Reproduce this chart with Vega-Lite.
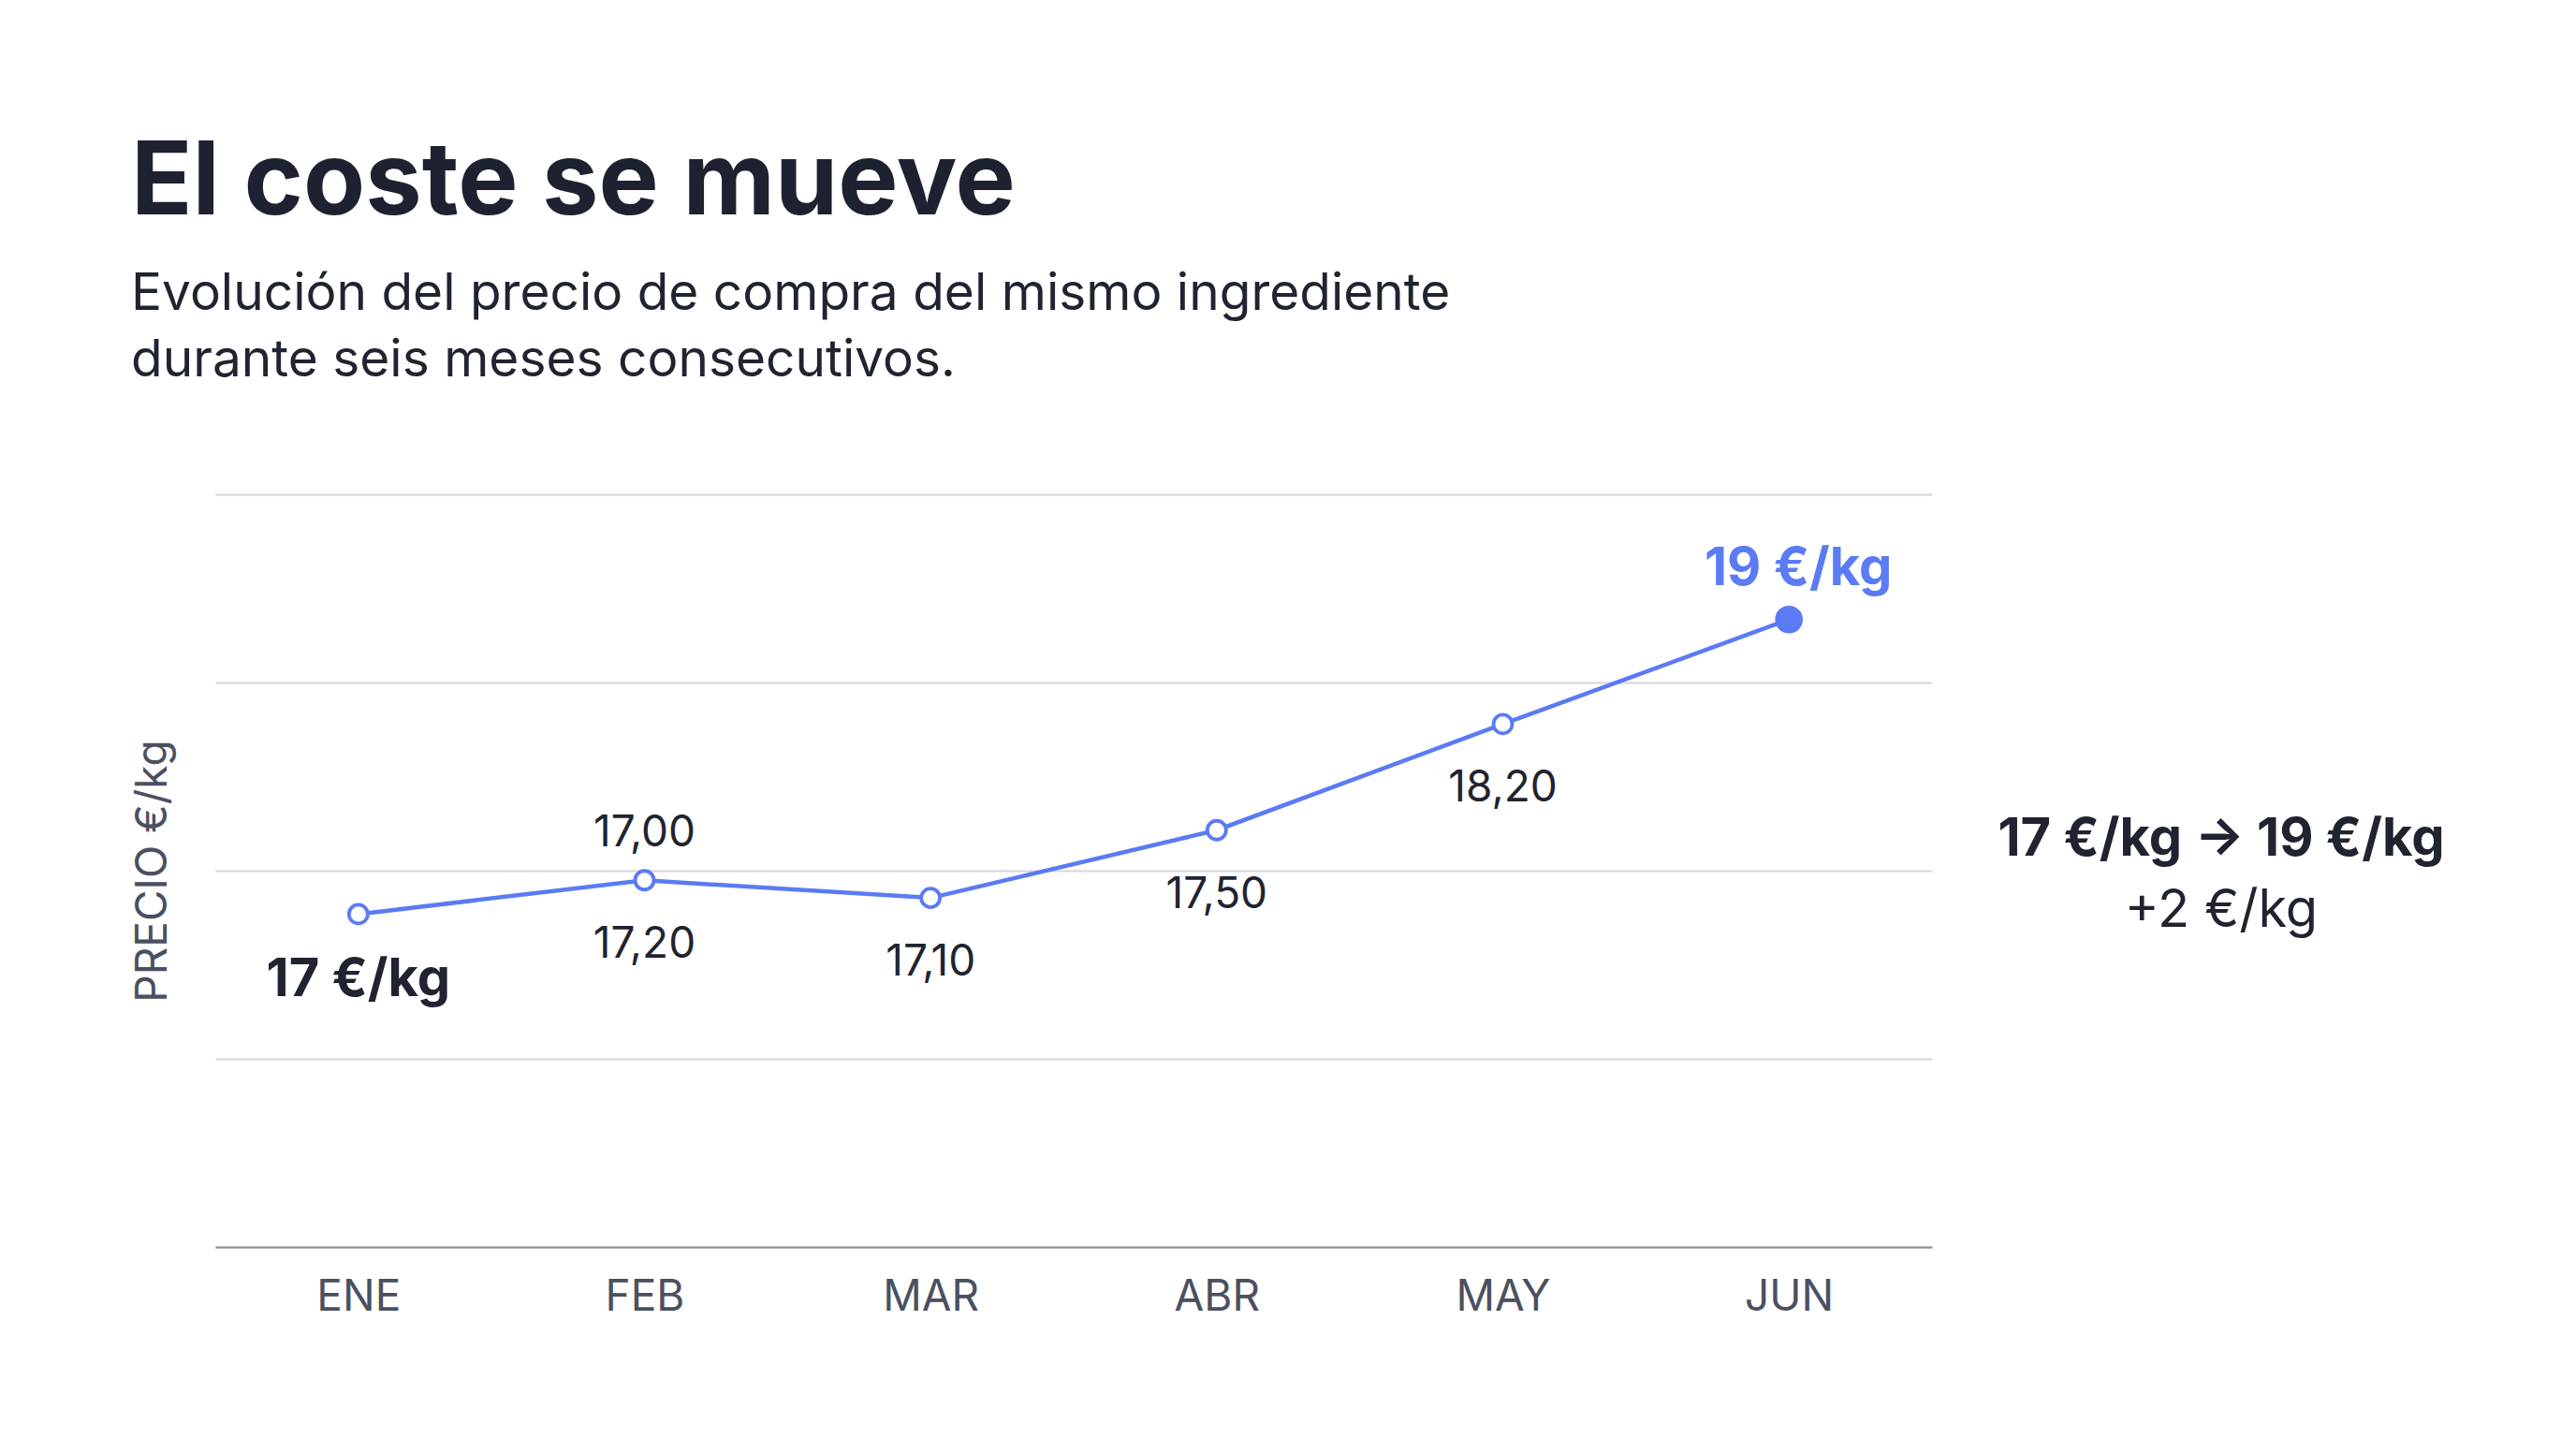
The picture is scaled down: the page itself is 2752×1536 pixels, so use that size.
{
  "$schema": "https://vega.github.io/schema/vega-lite/v6.json",
  "background": "white",
  "autosize": {"type": "pad"},
  "padding": {"left": 140, "top": 143, "right": 40, "bottom": 40},
  "config": {
    "font": "Inter",
    "view": {"stroke": null}
  },
  "title": {
    "text": "El coste se mueve",
    "subtitle": ["Evolución del precio de compra del mismo ingrediente", "durante seis meses consecutivos."],
    "anchor": "start",
    "frame": "bounds",
    "font": "Inter",
    "fontSize": 108,
    "fontWeight": 700,
    "color": "#1e2230",
    "subtitleFont": "Inter",
    "subtitleFontSize": 55,
    "subtitleFontWeight": 400,
    "subtitleColor": "#1f2430",
    "subtitleLineHeight": 71,
    "subtitlePadding": 36,
    "offset": 114
  },
  "datasets": {
    "serie": [
      {"mes": "ENE", "precio": 17.0, "destacado": false, "inicio": "17 €/kg"},
      {"mes": "FEB", "precio": 17.23, "destacado": false, "arriba": "17,00", "abajo": "17,20"},
      {"mes": "MAR", "precio": 17.11, "destacado": false, "abajo": "17,10"},
      {"mes": "ABR", "precio": 17.57, "destacado": false, "abajo": "17,50"},
      {"mes": "MAY", "precio": 18.29, "destacado": false, "abajo": "18,20"},
      {"mes": "JUN", "precio": 19.0, "destacado": true, "fin": "19 €/kg"}
    ],
    "resumen": [
      {"linea": 1, "texto": "17 €/kg → 19 €/kg", "negrita": true},
      {"linea": 0, "texto": "+2 €/kg", "negrita": false}
    ]
  },
  "spacing": 59,
  "hconcat": [
    {
      "width": 1834,
      "height": 804,
      "data": {"name": "serie"},
      "encoding": {
        "x": {
          "field": "mes",
          "type": "ordinal",
          "sort": null,
          "scale": {"type": "point", "padding": 0.5},
          "axis": {
            "title": null,
            "labelAngle": 0,
            "labelFont": "Inter",
            "labelFontSize": 46,
            "labelColor": "#4b5060",
            "ticks": false,
            "tickSize": 0,
            "labelPadding": 31,
            "domainColor": "#8a8f99",
            "domainWidth": 2,
            "grid": false
          }
        },
        "y": {
          "field": "precio",
          "type": "quantitative",
          "scale": {"domain": [14.74, 19.85], "zero": false, "nice": false},
          "axis": {
            "title": "PRECIO €/kg",
            "values": [14.74, 16.0175, 17.295, 18.5725, 19.85],
            "labels": false,
            "ticks": false,
            "domain": false,
            "grid": true,
            "gridColor": "#d6d6da",
            "gridWidth": 2,
            "titleFont": "Inter",
            "titleFontSize": 46,
            "titleFontWeight": 400,
            "titleColor": "#4b5060",
            "titlePadding": 43
          }
        }
      },
      "layer": [
        {"mark": {"type": "line", "color": "#5b7bf4", "strokeWidth": 4.5}},
        {
          "transform": [{"filter": "!datum.destacado"}],
          "mark": {"type": "point", "shape": "circle", "filled": true, "fill": "white", "stroke": "#5b7bf4", "strokeWidth": 3.8, "size": 400, "opacity": 1}
        },
        {
          "transform": [{"filter": "datum.destacado"}],
          "mark": {"type": "point", "shape": "circle", "filled": true, "color": "#5b7bf4", "size": 880, "opacity": 1}
        },
        {
          "transform": [{"filter": "isString(datum.abajo)"}],
          "mark": {"type": "text", "font": "Inter", "fontSize": 46, "color": "#1f2430", "baseline": "alphabetic", "dy": 83},
          "encoding": {"text": {"field": "abajo"}}
        },
        {
          "transform": [{"filter": "isString(datum.arriba)"}],
          "mark": {"type": "text", "font": "Inter", "fontSize": 46, "color": "#1f2430", "baseline": "alphabetic", "dy": -36},
          "encoding": {"text": {"field": "arriba"}}
        },
        {
          "transform": [{"filter": "isString(datum.inicio)"}],
          "mark": {"type": "text", "font": "Inter", "fontSize": 56, "fontWeight": 700, "color": "#1f2430", "baseline": "alphabetic", "dy": 88},
          "encoding": {"text": {"field": "inicio"}}
        },
        {
          "transform": [{"filter": "isString(datum.fin)"}],
          "mark": {"type": "text", "font": "Inter", "fontSize": 56, "fontWeight": 700, "color": "#5b7bf4", "baseline": "alphabetic", "dy": -37, "dx": 10},
          "encoding": {"text": {"field": "fin"}}
        }
      ]
    },
    {
      "width": 500,
      "height": 804,
      "data": {"name": "resumen"},
      "encoding": {
        "y": {"field": "linea", "type": "quantitative", "scale": {"domain": [-4.724, 5.856], "zero": false, "nice": false}, "axis": null}
      },
      "layer": [
        {
          "transform": [{"filter": "datum.negrita"}],
          "mark": {"type": "text", "font": "Inter", "fontSize": 56, "fontWeight": 700, "color": "#1f2430", "baseline": "middle"},
          "encoding": {"text": {"field": "texto"}}
        },
        {
          "transform": [{"filter": "!datum.negrita"}],
          "mark": {"type": "text", "font": "Inter", "fontSize": 56, "fontWeight": 400, "color": "#1f2430", "baseline": "middle"},
          "encoding": {"text": {"field": "texto"}}
        }
      ]
    }
  ]
}
